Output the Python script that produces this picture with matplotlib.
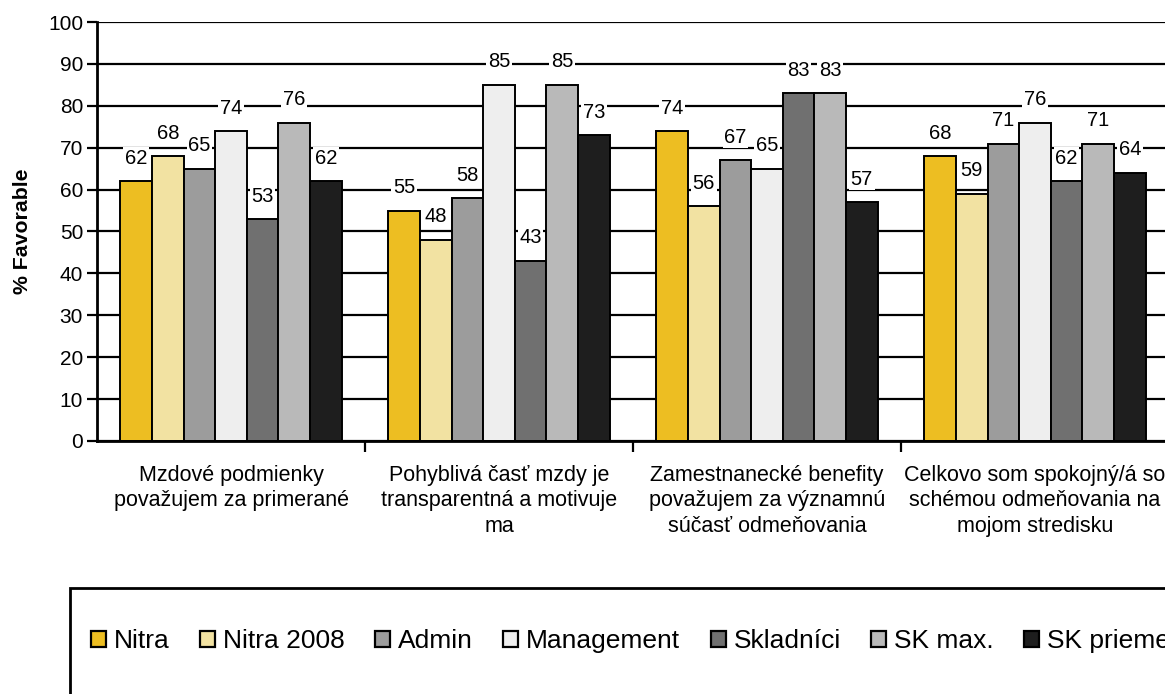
import matplotlib
matplotlib.use("Agg")
import matplotlib.pyplot as plt
import numpy as np
from matplotlib.patches import Rectangle, Patch

plt.rcParams['font.family'] = ['Liberation Sans', 'DejaVu Sans']

categories = [
    "Mzdové podmienky\npovažujem za primerané",
    "Pohyblivá časť mzdy je\ntransparentná a motivuje\nma",
    "Zamestnanecké benefity\npovažujem za významnú\nsúčasť odmeňovania",
    "Celkovo som spokojný/á so\nschémou odmeňovania na\nmojom stredisku",
]
series_names = ["Nitra", "Nitra 2008", "Admin", "Management", "Skladníci", "SK max.", "SK priemer"]
nitra      = [62, 55, 74, 68]
nitra2008  = [68, 48, 56, 59]
admin      = [65, 58, 67, 71]
management = [74, 85, 65, 76]
skladnici  = [53, 43, 83, 62]
sk_max     = [76, 85, 83, 71]
sk_priemer = [62, 73, 57, 64]
series_values = [nitra, nitra2008, admin, management, skladnici, sk_max, sk_priemer]
colors = ["#EDBE22", "#F2E2A2", "#9C9C9C", "#EEEEEE", "#707070", "#B9B9B9", "#1E1E1E"]
yticks = [0, 10, 20, 30, 40, 50, 60, 70, 80, 90, 100]

W, H = 1165, 694
fig = plt.figure(figsize=(W / 100, H / 100), dpi=100)
ax = fig.add_axes([97 / W, 1 - 441 / H, 4 * 268 / W, (441 - 22) / H])

n = len(series_names)
bw = 0.118
centers = np.arange(len(categories)) + 0.5
for i, (name, vals, c) in enumerate(zip(series_names, series_values, colors)):
    xs = centers + (i - (n - 1) / 2) * bw
    ax.bar(xs, vals, width=bw, color=c, edgecolor='black', linewidth=1.4, zorder=2, label=name)
    for x, v in zip(xs, vals):
        ax.annotate(str(v), (x, v), xytext=(0, 16.5), textcoords='offset points',
                    ha='center', va='center', fontsize=14.5, zorder=4,
                    bbox=dict(boxstyle='square,pad=0.08', fc='white', ec='none'))

ax.set_xlim(0, len(categories))
ax.set_ylim(0, 100)
ax.set_yticks(yticks)
ax.set_yticklabels([str(t) for t in yticks], fontsize=15)
ax.yaxis.grid(True, color='black', linewidth=1.6)
ax.set_axisbelow(True)
ax.tick_params(axis='y', length=7, width=1.6, pad=3)

ax.set_xticks(centers)
ax.set_xticklabels(categories, fontsize=15.5, linespacing=1.3)
ax.set_xticks(np.arange(1, len(categories)), minor=True)
ax.tick_params(axis='x', which='major', length=0, pad=17)
ax.tick_params(axis='x', which='minor', length=8, width=1.6)

for s in ['top', 'right']:
    ax.spines[s].set_visible(False)
for s in ['left', 'bottom']:
    ax.spines[s].set_linewidth(2)
    ax.spines[s].set_color('black')

ax.set_ylabel("% Favorable", fontsize=15.3, fontweight='bold')
ax.yaxis.set_label_coords(-0.061, 0.50)

# legend frame (extends beyond the figure edge, as cropped in the reference)
fig.patches.append(Rectangle((70 / W, -0.2), 1.2, 0.2 + (1 - 588 / H), transform=fig.transFigure,
                             fill=False, edgecolor='black', linewidth=2, zorder=5))
handles = [Patch(facecolor=c, edgecolor='black', linewidth=1.6) for c in colors]
fig.legend(handles, series_names, loc='center left', bbox_to_anchor=(91 / W, 1 - 641 / H),
           ncol=n, frameon=False, fontsize=19, handlelength=0.57, handleheight=0.57,
           handletextpad=0.3, columnspacing=1.15, borderaxespad=0, borderpad=0)

fig.savefig("out.png", dpi=100)
